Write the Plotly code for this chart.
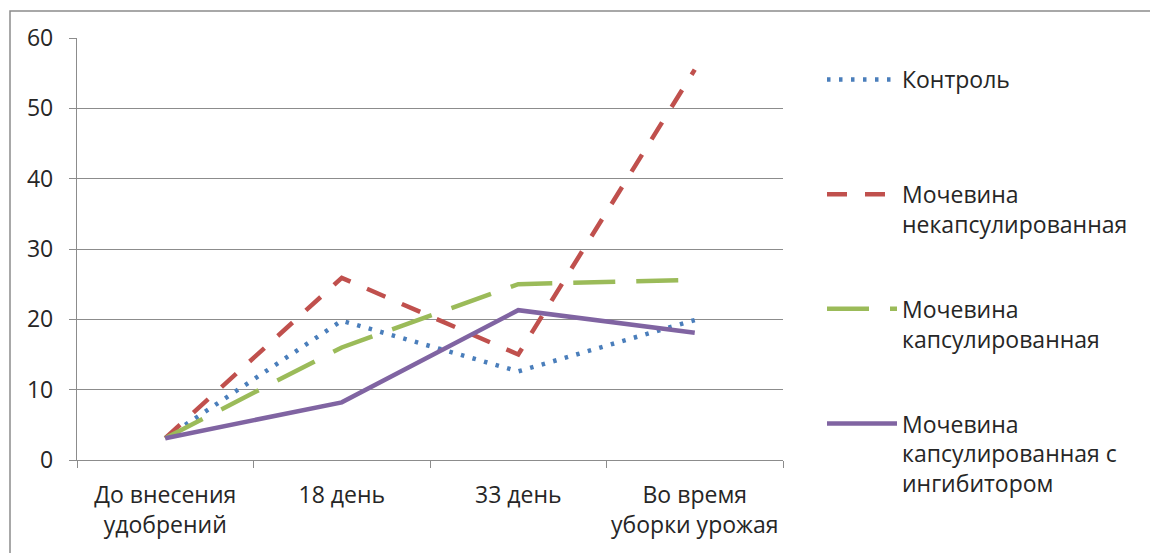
import plotly.graph_objects as go

categories = ["До внесения<br>удобрений", "18 день", "33 день", "Во время<br>уборки урожая"]
control = [3.1, 19.8, 12.6, 19.9]
urea_uncaps = [3.1, 25.9, 15.0, 55.5]
urea_caps = [3.1, 16.0, 25.0, 25.6]
urea_caps_inh = [3.1, 8.2, 21.3, 18.1]
y_ticks = [0, 10, 20, 30, 40, 50, 60]

series = [
    ("Контроль<br> <br> ", control, "#4A7EBB", "3.5px,8.5px"),
    ("Мочевина<br>некапсулированная<br> ", urea_uncaps, "#C0504D", "20px,18px"),
    ("Мочевина<br>капсулированная<br> ", urea_caps, "#9BBB59", "42px,21px"),
    ("Мочевина<br>капсулированная с<br>ингибитором", urea_caps_inh, "#8064A2", "solid"),
]

FONT = "Open Sans"
FS = 23
TXT = "#262626"
fig = go.Figure()
for i, (name, vals, color, dash) in enumerate(series):
    fig.add_trace(go.Scatter(
        x=categories, y=vals, mode="lines", name=name,
        legendgroup=f"g{i}",
        line=dict(color=color, width=4.5, dash=dash),
    ))

W, H = 1150, 553
L, R, T, B = 77, 367, 38, 93
pw, ph = W - L - R, H - T - B

fig.update_layout(
    width=W, height=H,
    margin=dict(l=L, r=R, t=T, b=B, pad=0),
    paper_bgcolor="white", plot_bgcolor="white",
    font=dict(family=FONT, size=FS, color=TXT),
    showlegend=True,
    legend=dict(
        x=(822 - L) / pw, xanchor="left",
        y=1 - (58 - T) / ph, yanchor="top",
        valign="top", itemwidth=70,
        traceorder="grouped", tracegroupgap=22,
        font=dict(family=FONT, size=FS, color=TXT),
        bgcolor="rgba(0,0,0,0)",
    ),
    xaxis=dict(
        type="category", range=[-0.5, 3.5],
        showline=True, linecolor="#8c8c8c", linewidth=1.3,
        ticks="outside", tickson="boundaries", ticklen=7, tickcolor="#8c8c8c",
        showgrid=False, zeroline=False,
        ticklabelstandoff=14,
        tickfont=dict(family=FONT, size=FS, color=TXT),
    ),
    yaxis=dict(
        range=[0, 60], tickvals=y_ticks,
        showline=True, linecolor="#8c8c8c", linewidth=1.3,
        ticks="outside", ticklen=7, tickcolor="#8c8c8c",
        showgrid=True, gridcolor="#8c8c8c", gridwidth=1.3,
        zeroline=False,
        ticklabelstandoff=11,
        tickfont=dict(family=FONT, size=FS, color=TXT),
    ),
    shapes=[dict(
        type="rect", xref="paper", yref="paper",
        x0=(10 - L) / pw, x1=(W + 20 - L) / pw,
        y0=-(H + 20 - T - ph) / ph, y1=1 + (T - 11) / ph,
        line=dict(color="#8c8c8c", width=1.5), layer="below",
    )],
)

try:
    fig.update_layout(legend_maxheight=520)
except Exception:
    fig.update_layout(legend_tracegroupgap=18)

fig.write_html(
    "out.html",
    config={"displayModeBar": False},
    post_script="document.body.style.margin='0';document.body.style.overflow='hidden';",
)
